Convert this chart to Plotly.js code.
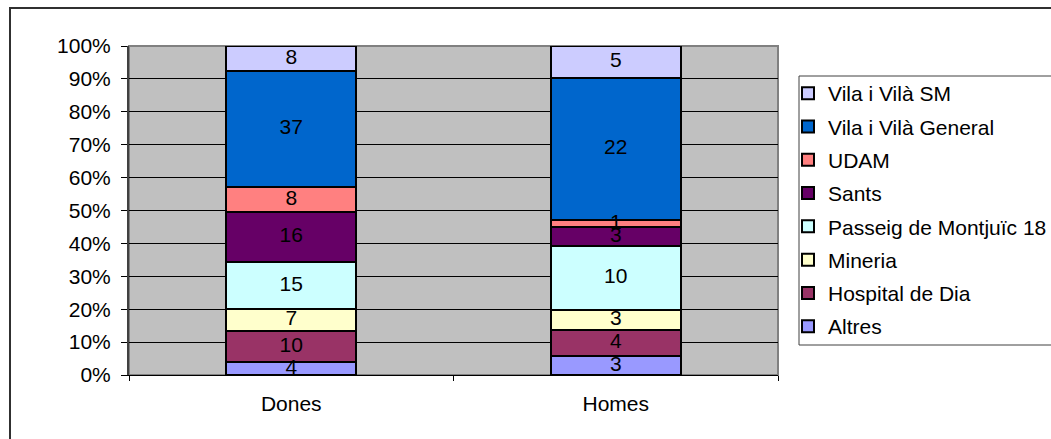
<!DOCTYPE html>
<html><head><meta charset="utf-8">
<script src="https://cdn.plot.ly/plotly-3.0.1.min.js"></script>
<style>html,body{margin:0;padding:0;background:#fff}#chart{width:1051px;height:439px}</style>
</head><body><div id="chart"></div>
<script>
const categories = ["Dones", "Homes"];
const seriesNames = ["Altres", "Hospital de Dia", "Mineria", "Passeig de Montjuïc 18", "Sants", "UDAM", "Vila i Vilà General", "Vila i Vilà SM"];
const altres = [4, 3];
const hospitalDia = [10, 4];
const mineria = [7, 3];
const passeig = [15, 10];
const sants = [16, 3];
const udam = [8, 1];
const vilaGeneral = [37, 22];
const vilaSM = [8, 5];
const seriesValues = [altres, hospitalDia, mineria, passeig, sants, udam, vilaGeneral, vilaSM];
const colors = ["#9999ff", "#993366", "#ffffcc", "#ccffff", "#660066", "#ff8080", "#0066cc", "#ccccff"];
const yTickVals = [0,10,20,30,40,50,60,70,80,90,100];

const FONT = "Liberation Sans, Arial, sans-serif";
const FS = 21;
const traces = seriesNames.map((n, i) => ({
  type: "bar",
  name: n,
  x: categories,
  y: seriesValues[i],
  marker: {color: colors[i], line: {color: "#000", width: 2}},
  legendgroup: "g" + i,
  legendrank: seriesNames.length - i,
  hoverinfo: "skip"
}));

// value labels drawn on top of all bars, at the middle of each (percent-normalised) segment
const lx = [], ly = [], lt = [];
categories.forEach((c, j) => {
  const total = seriesValues.reduce((s, arr) => s + arr[j], 0);
  let cum = 0;
  seriesValues.forEach(arr => {
    lx.push(c);
    ly.push((cum + arr[j] / 2) / total * 100);
    lt.push(String(arr[j]));
    cum += arr[j];
  });
});
traces.push({
  type: "scatter", mode: "text", x: lx, y: ly, text: lt,
  textposition: "middle center",
  textfont: {family: FONT, size: FS, color: "#000"},
  showlegend: false, hoverinfo: "skip", cliponaxis: false
});

const L = 129, R = 778, T = 46, B = 375, W = 1051, H = 439;
const px = v => (v - L) / (R - L);
const py = v => (B - v) / (B - T);

const layout = {
  width: W, height: H,
  margin: {l: L, r: W - R, t: T, b: H - B, pad: 0, autoexpand: false},
  paper_bgcolor: "#fff",
  plot_bgcolor: "#c0c0c0",
  barmode: "stack",
  barnorm: "percent",
  bargap: 0.6,
  font: {family: FONT, size: FS, color: "#000"},
  showlegend: true,
  legend: {
    x: px(788), y: py(73), xanchor: "left", yanchor: "top",
    traceorder: "grouped",
    tracegroupgap: 3,
    bgcolor: "rgba(0,0,0,0)", borderwidth: 0,
    font: {family: FONT, size: FS, color: "#000"}
  },
  xaxis: {
    type: "category",
    tickson: "boundaries",
    ticks: "outside", ticklen: 5, tickcolor: "#000", tickwidth: 1,
    showline: true, linecolor: "#000", linewidth: 1,
    showgrid: false, zeroline: false,
    ticklabelstandoff: 10,
    automargin: false,
    tickfont: {family: FONT, size: FS, color: "#000"}
  },
  yaxis: {
    range: [0, 100],
    tickvals: yTickVals,
    ticktext: yTickVals.map(v => v + "%"),
    ticks: "outside", ticklen: 6, tickcolor: "#000", tickwidth: 1,
    showline: true, linecolor: "#404040", linewidth: 2,
    showgrid: true, gridcolor: "#000", gridwidth: 1,
    zeroline: false,
    ticklabelstandoff: 6,
    automargin: false,
    tickfont: {family: FONT, size: FS, color: "#000"}
  },
  shapes: [
    {type: "rect", xref: "paper", yref: "paper", x0: 0, x1: 1, y0: 0, y1: 1,
     line: {color: "#808080", width: 2}, fillcolor: "rgba(0,0,0,0)", layer: "below"},
    {type: "rect", xref: "paper", yref: "paper", x0: px(799), x1: px(1070), y0: py(345), y1: py(76),
     line: {color: "#404040", width: 1}, fillcolor: "rgba(0,0,0,0)"},
    {type: "rect", xref: "paper", yref: "paper", x0: px(10), x1: px(1075), y0: py(460), y1: py(8),
     line: {color: "#303030", width: 2}, fillcolor: "rgba(0,0,0,0)"}
  ]
};

Plotly.newPlot("chart", traces, layout, {staticPlot: true, displayModeBar: false});
</script>
</body></html>
